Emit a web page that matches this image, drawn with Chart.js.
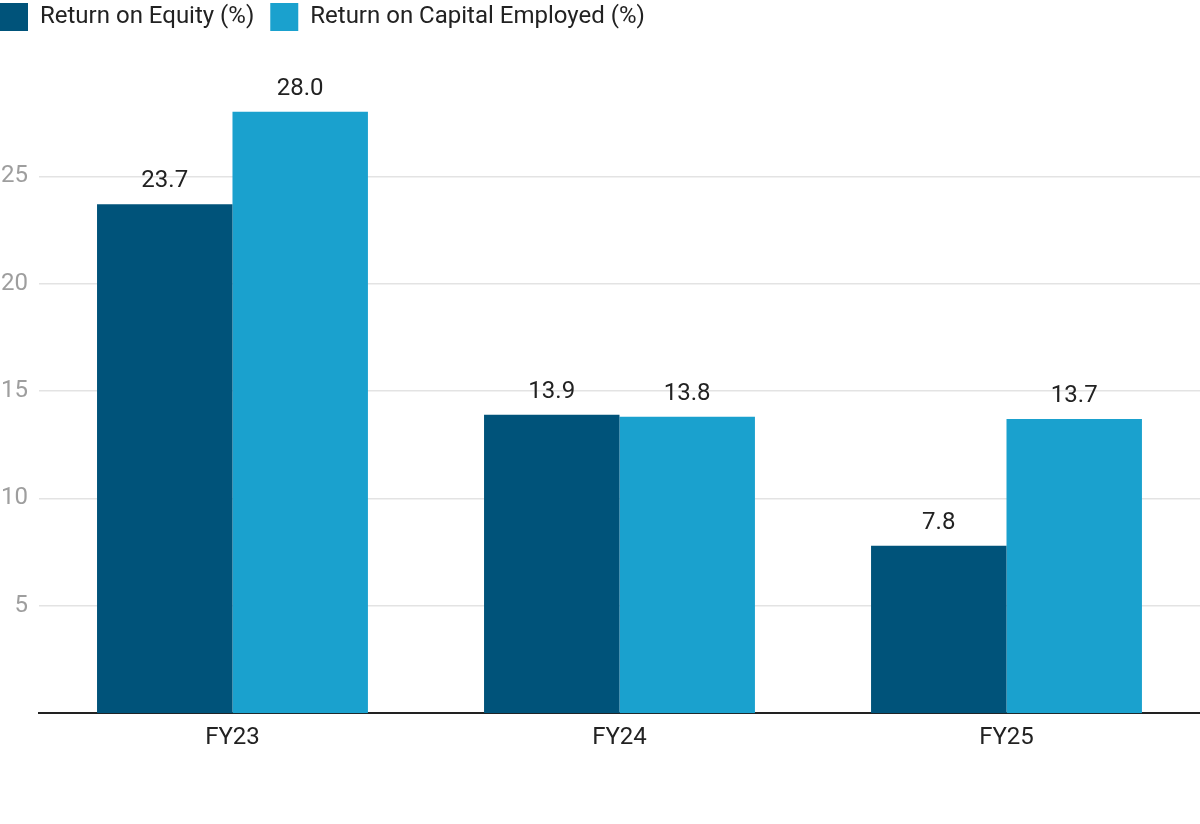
<!DOCTYPE html>
<html>
<head>
<meta charset="utf-8">
<script src="https://cdn.jsdelivr.net/npm/chart.js@4"></script>
<style>
    html, body { margin: 0; padding: 0; background: #fff; }
    #wrap { width: 1200px; height: 824px; }
</style>
</head>
<body>
<div id="wrap"><canvas id="myChart"></canvas></div>
<script>
const years = ['FY23', 'FY24', 'FY25'],
    roe = [23.7, 13.9, 7.8],
    roce = [28.0, 13.8, 13.7],
    yTicks = [5, 10, 15, 20, 25];

// value labels above each bar
const barLabels = {
    id: 'barLabels',
    afterDatasetsDraw(chart) {
        const ctx = chart.ctx;
        ctx.save();
        ctx.font = '24px Roboto';
        ctx.fillStyle = '#222';
        ctx.textAlign = 'center';
        ctx.textBaseline = 'alphabetic';
        chart.data.datasets.forEach((ds, i) => {
            chart.getDatasetMeta(i).data.forEach((bar, j) => {
                ctx.fillText(ds.data[j].toFixed(1), bar.x, bar.y - 17);
            });
        });
        ctx.restore();
    }
};

// pull the legend flush to the left edge
const legendShift = {
    id: 'legendShift',
    beforeDraw(chart) {
        chart.legend.left = -16;
    }
};

const ctx = document.getElementById('myChart'),
    myChart = new Chart(ctx, {
        type: 'bar',
        data: {
            labels: years,
            datasets: [{
                label: 'Return on Equity (%)',
                data: roe,
                backgroundColor: '#00537A'
            }, {
                label: 'Return on Capital Employed (%)',
                data: roce,
                backgroundColor: '#1AA1CE'
            }]
        },
        options: {
            responsive: true,
            maintainAspectRatio: false,
            animation: false,
            layout: { padding: { left: -10, right: 0, top: -13, bottom: 62 } },
            plugins: {
                legend: {
                    position: 'top',
                    align: 'start',
                    labels: {
                        boxWidth: 28,
                        boxHeight: 28,
                        padding: 16,
                        color: '#222',
                        font: { family: 'Roboto', size: 24 }
                    }
                },
                tooltip: { enabled: false }
            },
            datasets: {
                bar: { categoryPercentage: 0.7, barPercentage: 1.0 }
            },
            scales: {
                x: {
                    grid: { display: false, drawTicks: false },
                    border: { color: '#222', width: 2 },
                    ticks: {
                        color: '#222',
                        padding: 10,
                        font: { family: 'Roboto', size: 24 }
                    }
                },
                y: {
                    min: 0,
                    max: 31.3,
                    afterBuildTicks(axis) {
                        axis.ticks = yTicks.map(v => ({ value: v }));
                    },
                    grid: { color: '#e3e3e3', lineWidth: 1.5, drawTicks: false },
                    border: { display: false },
                    ticks: {
                        color: '#9e9e9e',
                        padding: 11,
                        font: { family: 'Roboto', size: 24 }
                    }
                }
            }
        },
        plugins: [barLabels, legendShift]
    });
</script>
</body>
</html>
